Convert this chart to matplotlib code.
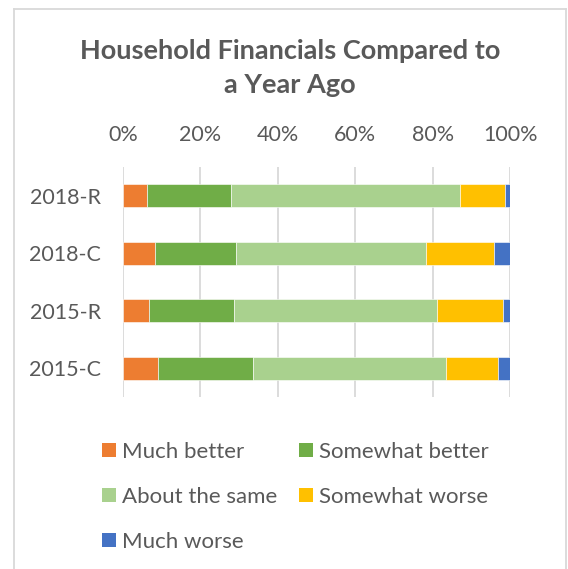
import matplotlib.pyplot as plt
import numpy as np
from matplotlib.lines import Line2D
from matplotlib.patches import Patch

plt.rcParams["font.family"] = ["Lato", "DejaVu Sans"]

# categories from top to bottom
groups = ["2018-R", "2018-C", "2015-R", "2015-C"]
series = ["Much better", "Somewhat better", "About the same", "Somewhat worse", "Much worse"]
much_better = [6.3, 8.3, 6.6, 9.1]
somewhat_better = [21.6, 20.9, 22.1, 24.5]
about_same = [59.2, 49.1, 52.3, 49.9]
somewhat_worse = [11.5, 17.6, 17.0, 13.3]
much_worse = [1.4, 4.1, 2.0, 3.2]
colors = ["#ED7D31", "#70AD47", "#A9D18E", "#FFC000", "#4472C4"]
xticks = [0, 20, 40, 60, 80, 100]

txt = "#595959"
fs = 15.5
W, H = 568, 569
fig = plt.figure(figsize=(W / 100, H / 100), dpi=100)
ax = fig.add_axes([123 / W, 1 - 397 / H, (510.3 - 123) / W, (397 - 167) / H])

values = np.array([much_better, somewhat_better, about_same, somewhat_worse, much_worse])
y = np.arange(len(groups))
left = np.zeros(len(groups))
for name, vals, c in zip(series, values, colors):
    ax.barh(y, vals, left=left, height=0.4, color=c, edgecolor="white",
            linewidth=0.4, label=name, zorder=3)
    left += vals

ax.set_xlim(0, 100)
ax.set_ylim(len(groups) - 0.5, -0.5)
ax.set_yticks(y)
ax.set_yticklabels(groups)
ax.set_xticks(xticks)
ax.set_xticklabels([f"{t}%" for t in xticks])
ax.xaxis.tick_top()
ax.tick_params(length=0, labelsize=fs, labelcolor=txt)
ax.tick_params("x", pad=16)
ax.tick_params("y", pad=16)
ax.grid(axis="x", color="#D9D9D9", linewidth=1.3, zorder=0)
for s in ax.spines.values():
    s.set_visible(False)

fig.text(0.511, 1 - 68 / H, "Household Financials Compared to\na Year Ago",
         ha="center", va="center", fontsize=19.5, fontweight="bold",
         color=txt, linespacing=1.49)

# legend filled row by row
handles = [Patch(facecolor=c, edgecolor="none") for c in colors]
order = [0, 2, 4, 1, 3]
fig.legend([handles[i] for i in order], [series[i] for i in order],
           loc="upper left", bbox_to_anchor=(102 / W, 1 - 442 / H), ncol=2,
           frameon=False, fontsize=16, labelcolor=txt, handlelength=0.63,
           handleheight=0.63, handletextpad=0.27, columnspacing=1.0,
           labelspacing=1.12, borderpad=0, borderaxespad=0)

# chart frame
bx0, bx1, by1 = 13.5 / W, 566 / W, 1 - 9 / H
for xs, ys in [([bx0, bx0], [0, by1]), ([bx0, bx1], [by1, by1]), ([bx1, bx1], [by1, 0])]:
    fig.add_artist(Line2D(xs, ys, color="#D9D9D9", linewidth=1.3))

fig.savefig("out.png", dpi=100)
